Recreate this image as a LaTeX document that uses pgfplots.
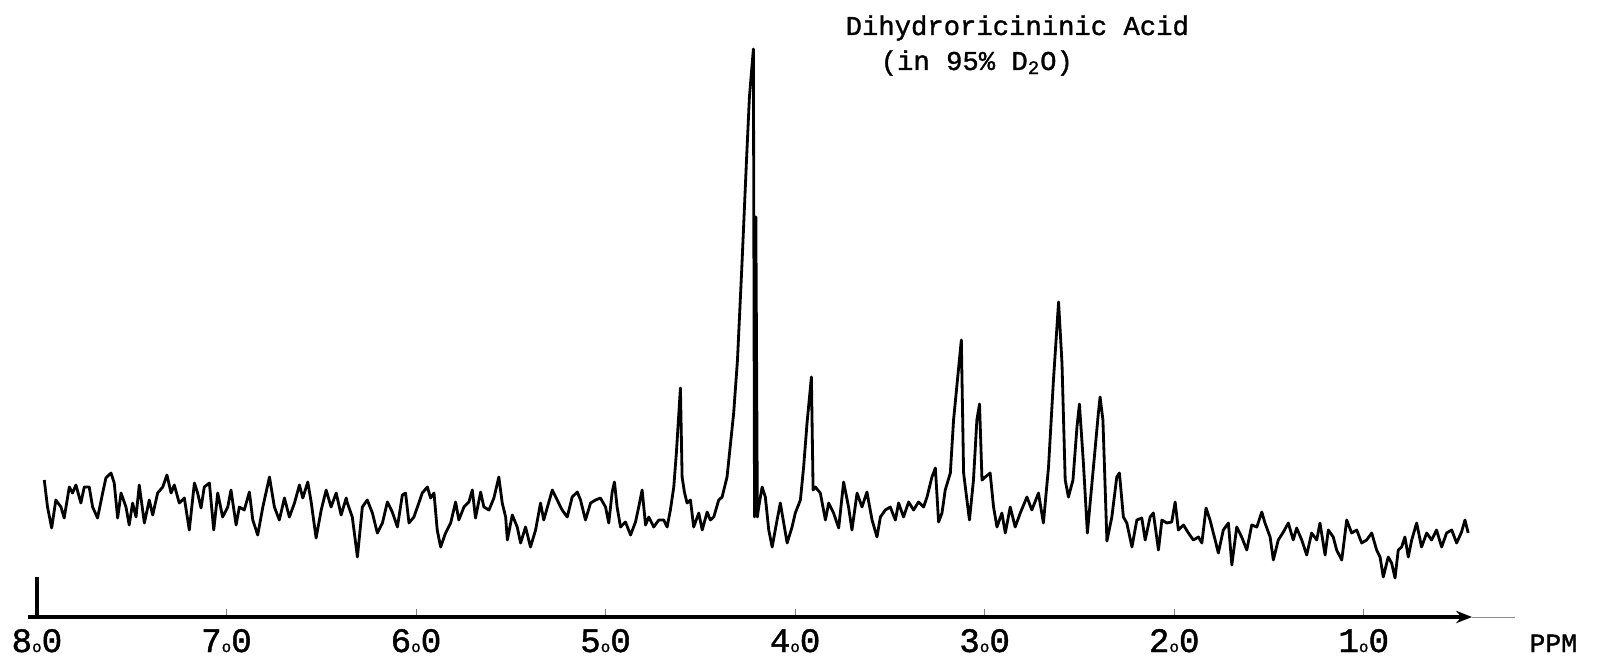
\documentclass[border=0pt]{standalone}
\usepackage{fontspec}
\setmainfont[FakeBold=1.2]{Liberation Mono}
\usepackage{pgfplots}
\pgfplotsset{compat=1.18}
\usetikzlibrary{arrows.meta}
% typewriter decimal: small ring on the baseline
\newcommand{\dt}{{\fontsize{9}{9}\selectfont o}}

\begin{document}
\begin{tikzpicture}
\useasboundingbox (-0.56cm,-0.78cm) rectangle (31.48cm,12.34cm);
\begin{axis}[at={(0,0)},anchor=south west,scale only axis,
	width=28.88cm,height=12.34cm,
	x dir=reverse,xmin=0.429,xmax=8.047,ymin=0,ymax=617,
	axis y line=none,axis x line*=bottom,x axis line style={draw=none},
	xtick={1,2,3,4,5,6,7,8},
	xticklabels={1\dt0,2\dt0,3\dt0,4\dt0,5\dt0,6\dt0,7\dt0,8\dt0},
	tick align=inside,major tick length=0.16cm,
	tick style={draw=black!50,line width=0.4pt},
	xticklabel style={font=\fontsize{19.5}{19.5}\selectfont,anchor=base,yshift=-0.70cm},
	clip=false]
% spectrum trace (ppm, pen height)
\addplot[black,line width=1.6pt,line join=round] coordinates {
(7.961,137)(7.944,110)(7.922,89)(7.900,117)(7.873,110)(7.856,99)(7.829,130)(7.812,124)(7.794,132)(7.768,114)
(7.750,130)(7.724,130)(7.706,110)(7.680,99)(7.653,124)(7.636,139)(7.609,144)(7.592,134)(7.574,99)(7.556,124)
(7.530,110)(7.513,92)(7.495,114)(7.477,100)(7.460,132)(7.433,94)(7.407,117)(7.389,102)(7.363,124)(7.336,130)
(7.314,142)(7.292,124)(7.275,132)(7.249,114)(7.222,119)(7.196,87)(7.169,134)(7.152,124)(7.134,109)(7.117,130)
(7.090,134)(7.067,87)(7.046,124)(7.020,100)(6.993,110)(6.976,127)(6.949,92)(6.932,110)(6.906,107)(6.879,125)
(6.861,97)(6.835,82)(6.808,110)(6.773,140)(6.747,110)(6.721,97)(6.694,119)(6.668,100)(6.641,114)(6.615,132)
(6.597,119)(6.571,135)(6.553,115)(6.527,79)(6.500,107)(6.474,127)(6.448,110)(6.421,124)(6.395,102)(6.368,119)
(6.362,114)(6.336,100)(6.309,60)(6.283,110)(6.257,117)(6.230,104)(6.204,84)(6.177,94)(6.151,115)(6.125,105)
(6.098,90)(6.072,122)(6.055,124)(6.037,94)(6.011,100)(5.985,114)(5.967,124)(5.940,130)(5.923,119)(5.905,124)
(5.888,87)(5.870,70)(5.844,84)(5.817,94)(5.791,115)(5.774,97)(5.747,110)(5.721,115)(5.703,127)(5.686,99)
(5.659,125)(5.642,110)(5.615,107)(5.589,119)(5.563,140)(5.545,114)(5.527,100)(5.518,77)(5.492,102)(5.466,90)
(5.448,74)(5.422,90)(5.396,70)(5.369,87)(5.343,114)(5.326,97)(5.299,115)(5.281,127)(5.255,117)(5.229,107)
(5.202,100)(5.176,120)(5.149,125)(5.132,117)(5.106,97)(5.079,114)(5.053,117)(5.027,119)(5.000,110)(4.983,94)
(4.965,125)(4.953,135)(4.939,110)(4.921,90)(4.895,95)(4.868,82)(4.842,95)(4.825,110)(4.807,127)(4.789,92)
(4.772,100)(4.746,90)(4.719,97)(4.693,97)(4.675,90)(4.658,107)(4.640,130)(4.626,165)(4.605,229)(4.596,140)
(4.584,125)(4.570,114)(4.552,117)(4.535,90)(4.508,104)(4.490,87)(4.464,105)(4.447,97)(4.429,100)(4.403,117)
(4.385,120)(4.359,140)(4.324,204)(4.304,257)(4.280,354)(4.257,454)(4.241,520)(4.220,568)(4.214,100)(4.207,400)
(4.199,100)(4.192,110)(4.174,130)(4.157,120)(4.139,87)(4.121,70)(4.095,97)(4.078,114)(4.060,94)(4.042,74)
(4.016,90)(3.999,104)(3.972,117)(3.955,150)(3.937,194)(3.914,240)(3.905,127)(3.893,130)(3.867,124)(3.840,97)
(3.823,114)(3.797,104)(3.770,89)(3.744,135)(3.718,110)(3.700,87)(3.673,124)(3.647,110)(3.621,125)(3.594,97)
(3.568,80)(3.550,100)(3.524,107)(3.498,110)(3.471,97)(3.454,114)(3.428,100)(3.401,115)(3.375,107)(3.349,115)
(3.322,110)(3.304,120)(3.278,140)(3.260,149)(3.243,95)(3.225,104)(3.208,127)(3.181,144)(3.164,197)(3.123,277)
(3.111,144)(3.085,104)(3.080,97)(3.059,137)(3.041,197)(3.027,213)(3.014,137)(2.997,140)(2.971,144)(2.953,110)
(2.935,90)(2.909,104)(2.891,84)(2.865,110)(2.839,90)(2.812,104)(2.777,120)(2.751,107)(2.716,124)(2.690,94)
(2.663,150)(2.637,237)(2.610,315)(2.592,254)(2.575,137)(2.558,120)(2.534,137)(2.513,190)(2.500,213)(2.479,154)
(2.458,84)(2.426,150)(2.400,204)(2.391,220)(2.376,197)(2.355,76)(2.329,100)(2.303,140)(2.289,144)(2.268,100)
(2.250,94)(2.223,70)(2.197,97)(2.171,99)(2.153,77)(2.127,100)(2.110,104)(2.083,67)(2.065,97)(2.039,94)
(2.013,95)(1.995,115)(1.978,87)(1.951,92)(1.925,84)(1.899,77)(1.872,80)(1.854,74)(1.832,109)(1.811,97)
(1.784,77)(1.767,64)(1.741,87)(1.714,94)(1.696,52)(1.670,90)(1.644,80)(1.617,67)(1.591,92)(1.564,90)
(1.538,105)(1.521,94)(1.494,80)(1.477,57)(1.451,77)(1.424,85)(1.398,94)(1.372,77)(1.354,89)(1.327,77)
(1.301,62)(1.275,84)(1.248,77)(1.231,94)(1.204,62)(1.187,87)(1.161,80)(1.143,67)(1.116,57)(1.090,97)
(1.064,84)(1.037,87)(1.011,74)(0.985,77)(0.958,84)(0.932,67)(0.914,60)(0.897,40)(0.871,60)(0.853,54)
(0.835,39)(0.818,67)(0.800,70)(0.783,80)(0.765,60)(0.747,77)(0.721,94)(0.695,70)(0.668,84)(0.642,77)
(0.616,87)(0.589,70)(0.563,84)(0.536,87)(0.510,74)(0.484,85)(0.466,97)(0.449,84)
};
% baseline arrow and start marker
\draw[line width=2.2pt,-{Stealth[length=9pt,width=7pt]}] (axis cs:8.047,0) -- (axis cs:0.429,0);
\draw[black!45,line width=0.5pt] (axis cs:0.429,0) -- (axis cs:0.20,0);
\draw[line width=2.2pt] (axis cs:8,0) -- (axis cs:8,40);
% labels
\node[anchor=base west,font=\fontsize{15.5}{15.5}\selectfont,inner sep=0pt] at (axis cs:3.735,582) {Dihydroricininic Acid};
\node[anchor=base west,font=\fontsize{15.5}{15.5}\selectfont,inner sep=0pt] at (axis cs:3.550,547) {(in 95\% D\textsubscript{2}O)};
\node[anchor=base,font=\fontsize{15}{15}\selectfont,inner sep=0pt] at (axis cs:0.0,-35) {PPM};
\end{axis}
\end{tikzpicture}
\end{document}
